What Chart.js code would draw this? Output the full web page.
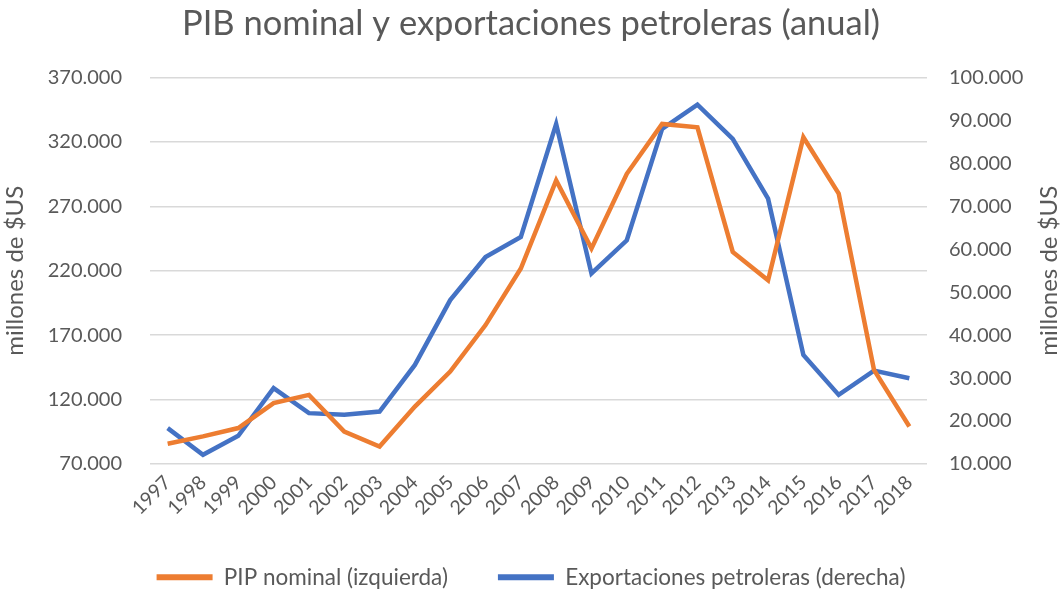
<!DOCTYPE html>
<html>
<head>
<meta charset="utf-8">
<script src="https://cdn.jsdelivr.net/npm/chart.js@4"></script>
<style>
  body { margin: 0; background: #fff; }
</style>
</head>
<body>
<canvas id="chartcanvas" width="1062" height="594"></canvas>
<script>
var years = ["1997","1998","1999","2000","2001","2002","2003","2004","2005","2006","2007",
	"2008","2009","2010","2011","2012","2013","2014","2015","2016","2017","2018"];

// PIB nominal, millones de $US (eje izquierdo)
var pibNominal = [85700, 91400, 97900, 117200, 123600, 95200, 83600, 114600, 141700, 177800, 221700,
	290000, 237200, 295200, 333900, 331300, 234600, 212600, 323600, 279800, 143000, 99100];

// Exportaciones petroleras, millones de $US (eje derecho)
var exportPetroleras = [18360, 12160, 16570, 27650, 21840, 21450, 22210, 33060, 48150, 58200, 62840,
	89170, 54350, 62080, 88010, 93650, 85690, 71760, 35380, 26090, 31730, 29970];

var leftTicks = [70000, 120000, 170000, 220000, 270000, 320000, 370000];
var rightTicks = [10000, 20000, 30000, 40000, 50000, 60000, 70000, 80000, 90000, 100000];

var textColor = "#595959";
var fontName = "Lato";

function fmt(v) {
	return String(v).replace(/\B(?=(\d{3})+(?!\d))/g, ".");
}

// titulo del eje derecho, escrito de abajo hacia arriba como en Excel
var rightTitle = {
	id: "rightTitle",
	afterDraw: function(chart) {
		var s = chart.scales.y1;
		var ctx = chart.ctx;
		ctx.save();
		ctx.translate(s.right - 13, (s.top + s.bottom) / 2);
		ctx.rotate(-Math.PI / 2);
		ctx.fillStyle = textColor;
		ctx.font = "24px " + fontName;
		ctx.textAlign = "center";
		ctx.textBaseline = "middle";
		ctx.fillText("millones de $US", 0, 0);
		ctx.restore();
	}
};

var ctx = document.getElementById("chartcanvas").getContext("2d");
var myChart = new Chart(ctx, {
	type: "line",
	data: {
		labels: years,
		datasets: [
			{
				label: "PIP nominal (izquierda)",
				data: pibNominal,
				yAxisID: "y",
				borderColor: "#ED7D31",
				backgroundColor: "#ED7D31",
				borderWidth: 4.5,
				pointRadius: 0,
				tension: 0
			},
			{
				label: "Exportaciones petroleras (derecha)",
				data: exportPetroleras,
				yAxisID: "y1",
				borderColor: "#4472C4",
				backgroundColor: "#4472C4",
				borderWidth: 4.5,
				pointRadius: 0,
				tension: 0
			}
		]
	},
	options: {
		responsive: false,
		animation: false,
		layout: { padding: 0 },
		plugins: {
			title: {
				display: true,
				text: "PIB nominal y exportaciones petroleras (anual)",
				color: textColor,
				font: { family: fontName, size: 34.5, weight: "normal" },
				padding: { top: 3, bottom: 33 }
			},
			legend: {
				position: "bottom",
				maxHeight: 78,
				labels: {
					color: textColor,
					font: { family: fontName, size: 22.5 },
					boxWidth: 56,
					boxHeight: 6,
					padding: 50,
					generateLabels: function(chart) {
						var items = Chart.defaults.plugins.legend.labels.generateLabels(chart);
						items.forEach(function(it) { it.lineWidth = 0; });
						return items;
					}
				}
			},
			tooltip: { enabled: false }
		},
		scales: {
			x: {
				offset: true,
				grid: { display: false, drawTicks: false },
				border: { display: false },
				ticks: {
					color: textColor,
					font: { family: fontName, size: 19.5 },
					maxRotation: 45,
					minRotation: 45,
					padding: 7,
					autoSkip: false
				},
				afterFit: function(scale) { scale.height = 52; }
			},
			y: {
				position: "left",
				min: 70000,
				max: 370000,
				afterBuildTicks: function(scale) {
					scale.ticks = leftTicks.map(function(v) { return { value: v }; });
				},
				grid: { color: "#D9D9D9", lineWidth: 1.5, drawTicks: false },
				border: { display: false },
				ticks: {
					color: textColor,
					font: { family: fontName, size: 20 },
					padding: 28,
					callback: function(v) { return fmt(v); }
				},
				title: {
					display: true,
					text: "millones de $US",
					color: textColor,
					font: { family: fontName, size: 24 },
					padding: { top: 1, bottom: 0 }
				},
				afterFit: function(scale) { scale.width = 150; }
			},
			y1: {
				position: "right",
				min: 10000,
				max: 100000,
				afterBuildTicks: function(scale) {
					scale.ticks = rightTicks.map(function(v) { return { value: v }; });
				},
				grid: { display: false, drawTicks: false },
				border: { display: false },
				ticks: {
					color: textColor,
					font: { family: fontName, size: 20 },
					padding: 22,
					callback: function(v) { return fmt(v); }
				},
				afterFit: function(scale) { scale.width = 135; }
			}
		}
	},
	plugins: [rightTitle]
});
</script>
</body>
</html>
